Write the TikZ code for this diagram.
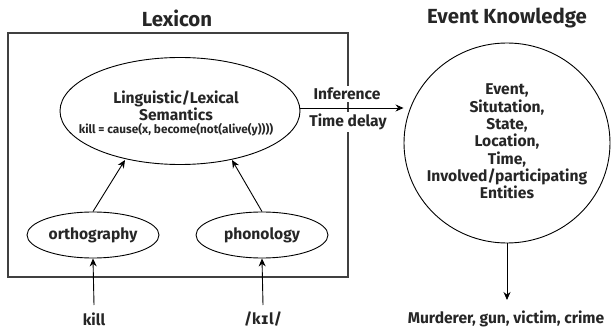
\documentclass[tikz,border=0pt]{standalone}
\usepackage{fontspec}
\setmainfont{Fira Sans}
\newfontfamily\ipafont{DejaVu Sans}
\usetikzlibrary{arrows.meta,shapes.geometric}
\begin{document}
\begin{tikzpicture}[x=1pt,y=-1pt,
  lbl/.style={font=\bfseries\fontsize{15.6}{17.3}\selectfont, text=black!85, align=center, inner sep=0pt},
  ttl/.style={font=\bfseries\fontsize{20.4}{24}\selectfont, text=black!85, inner sep=0pt},
  ell/.style={draw, ellipse, line width=0.9pt},
  arr/.style={-{Stealth[length=8pt,width=7pt]}, line width=0.9pt}]
\useasboundingbox (0,0) rectangle (613,331);
% Lexicon
\node[ttl] (lextitle) at (177,18) {Lexicon};
\draw[line width=1.2pt, draw=black!75] (8,33) rectangle (348,277);
\node[draw, ellipse, line width=0.9pt, minimum width=240pt, minimum height=107pt] (sem) at (180,111) {};
\node[lbl, font=\bfseries\fontsize{15.6}{17}\selectfont] (semtxt) at (176,106) {Linguistic/Lexical\\Semantics};
\node[lbl, font=\bfseries\fontsize{11.8}{13}\selectfont] (formula) at (176,130) {kill = cause(x, become(not(alive(y))))};
\node[ell, minimum width=132pt, minimum height=46pt, lbl] (orth) at (93,235) {orthography};
\node[ell, minimum width=132pt, minimum height=46pt, lbl] (phon) at (262,235) {phonology};
\draw[arr] (orth.north) -- (125,160);
\draw[arr] (phon.north) -- (232,160);
\node[lbl] (kill) at (94,319) {kill};
\node[lbl] (kil) at (263,319) {/k{\ipafont\bfseries ɪ}l/};
\draw[arr] (kill.north |- 0,305) -- (orth.south);
\draw[arr] (kil.north |- 0,305) -- (phon.south);
% Event knowledge
\node[ttl] (evtitle) at (507,18) {Event Knowledge};
\node[draw, ellipse, line width=0.9pt, minimum width=206pt, minimum height=200pt] (ev) at (507,143) {};
\node[lbl] (evtxt) at (507,141.5) {Event,\\Situtation,\\State,\\Location,\\Time,\\Involved/participating\\Entities};
\draw[arr] (sem.east |- 0,108) -- (ev.west |- 0,108);
\node[lbl, fill=white, inner sep=2pt] (inf) at (347,94) {Inference};
\node[lbl, fill=white, inner sep=2pt] (td) at (348,122) {Time delay};
\coordinate (outend) at (507,300);
\draw[arr] (ev.south) -- (outend);
\node[lbl] (out) at (506,319) {Murderer, gun, victim, crime};
\end{tikzpicture}
\end{document}
